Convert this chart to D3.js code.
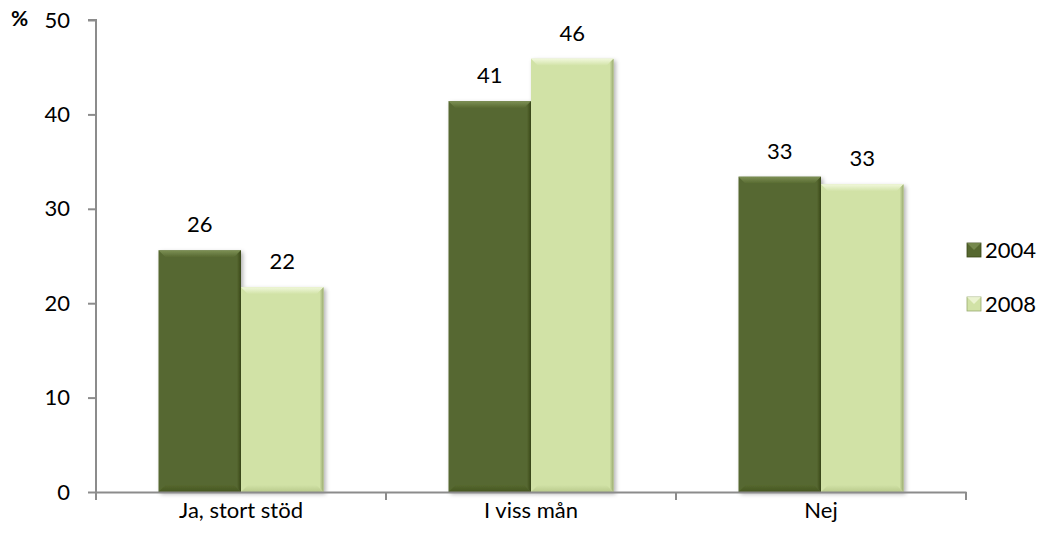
<!DOCTYPE html>
<html>
<head>
<meta charset="utf-8">
<script src="https://cdn.jsdelivr.net/npm/d3@7/dist/d3.min.js"></script>
<style>
  body { margin: 0; background: #fff; }
  svg text { font-family: Lato, "Open Sans", sans-serif; fill: #000; }
</style>
</head>
<body>
<svg id="chart" width="1043" height="547"></svg>
<script>
// Survey answers, share of respondents (%)
const categories = ["Ja, stort stöd", "I viss mån", "Nej"];
const seriesNames = ["2004", "2008"];
const values2004 = [25.6, 41.4, 33.4];
const values2008 = [21.7, 45.9, 32.6];
const yTicks = [0, 10, 20, 30, 40, 50];

const palette = {
  "2004": { base: "#566830", hi: "#7d9055", dark: "#46561f", lo: "#3a4718" },
  "2008": { base: "#d1e2a6", hi: "#f1f8dc", dark: "#b9ca8c", lo: "#9aab70" }
};
const FONT = 22;
const FAMILY = "Lato, 'Open Sans', sans-serif";

const svg = d3.select("#chart");
const margin = { left: 96, right: 1043 - 966, top: 20, bottom: 547 - 492 };
const W = 1043, H = 547;

const x = d3.scaleBand().domain(categories).range([margin.left, W - margin.right]).paddingInner(0).paddingOuter(0);
const x1 = d3.scaleBand().domain(seriesNames).range([0, 165]);
const y = d3.scaleLinear().domain([0, 50]).range([H - margin.bottom, margin.top]);

const defs = svg.append("defs");
const shadow = defs.append("filter").attr("id", "shadow").attr("x", "-20%").attr("y", "-20%").attr("width", "140%").attr("height", "140%");
shadow.append("feDropShadow").attr("dx", 2).attr("dy", 2).attr("stdDeviation", 2).attr("flood-color", "#000").attr("flood-opacity", 0.3);

// vertical fade for the top bevel, horizontal fades for the sides
seriesNames.forEach(s => {
  const p = palette[s];
  const t = defs.append("linearGradient").attr("id", "top" + s).attr("x1", 0).attr("x2", 0).attr("y1", 0).attr("y2", 1);
  t.append("stop").attr("offset", "0%").attr("stop-color", p.hi);
  t.append("stop").attr("offset", "100%").attr("stop-color", p.base);
  const r = defs.append("linearGradient").attr("id", "right" + s).attr("x1", 0).attr("x2", 1).attr("y1", 0).attr("y2", 0);
  r.append("stop").attr("offset", "0%").attr("stop-color", p.base);
  r.append("stop").attr("offset", "100%").attr("stop-color", p.lo);
  const b = defs.append("linearGradient").attr("id", "bottom" + s).attr("x1", 0).attr("x2", 0).attr("y1", 0).attr("y2", 1);
  b.append("stop").attr("offset", "0%").attr("stop-color", p.base);
  b.append("stop").attr("offset", "100%").attr("stop-color", p.dark);
});

const rows = [];
categories.forEach((c, i) => {
  rows.push({ cat: c, s: "2004", v: values2004[i] });
  rows.push({ cat: c, s: "2008", v: values2008[i] });
});

const groupOffset = (x.bandwidth() - 165) / 2;

// Bars with a beveled edge
const bars = svg.append("g").selectAll("g").data(rows).join("g")
  .attr("filter", "url(#shadow)");

bars.each(function(d) {
  const g = d3.select(this);
  const bx = x(d.cat) + groupOffset + x1(d.s);
  const bw = x1.bandwidth();
  const by = y(d.v);
  const bh = y(0) - by;
  const b = 7;
  const p = palette[d.s];
  const pts = a => a.map(q => q.join(",")).join(" ");
  g.append("rect").attr("x", bx).attr("y", by).attr("width", bw).attr("height", bh).attr("fill", p.base);
  // top edge
  g.append("polygon").attr("points", pts([[bx, by], [bx + bw, by], [bx + bw - b, by + b], [bx + b, by + b]]))
    .attr("fill", `url(#top${d.s})`);
  // right edge
  g.append("polygon").attr("points", pts([[bx + bw, by], [bx + bw, by + bh], [bx + bw - 4, by + bh - 4], [bx + bw - 4, by + 4]]))
    .attr("fill", `url(#right${d.s})`);
  // bottom edge
  g.append("polygon").attr("points", pts([[bx, by + bh], [bx + b, by + bh - b], [bx + bw - b, by + bh - b], [bx + bw, by + bh]]))
    .attr("fill", `url(#bottom${d.s})`);
});

// Value labels
svg.append("g").selectAll("text").data(rows).join("text")
  .attr("x", d => x(d.cat) + groupOffset + x1(d.s) + x1.bandwidth() / 2)
  .attr("y", d => y(d.v) - 18)
  .attr("text-anchor", "middle")
  .attr("font-size", FONT)
  .text(d => d3.format(".0f")(d.v));

// Y axis
const yAxis = svg.append("g").attr("transform", `translate(${margin.left},0)`)
  .call(d3.axisLeft(y).tickValues(yTicks).tickSize(8).tickPadding(18).tickFormat(d3.format("d")));
yAxis.select(".domain").attr("stroke", "#8c8c8c").attr("stroke-width", 2).attr("d", `M-8,${y(50)}H0V${y(0)}`);
yAxis.selectAll(".tick line").attr("stroke", "#8c8c8c").attr("stroke-width", 2);
yAxis.selectAll(".tick text").attr("font-size", FONT).attr("font-family", FAMILY).attr("fill", "#000");

// X axis
const xAxis = svg.append("g").attr("transform", `translate(0,${y(0)})`)
  .call(d3.axisBottom(x).tickSize(0).tickPadding(10));
xAxis.select(".domain").attr("stroke", "#8c8c8c").attr("stroke-width", 2);
xAxis.selectAll(".tick text").attr("font-size", FONT).attr("font-family", FAMILY).attr("fill", "#000");
const bounds = [margin.left].concat(categories.map(c => x(c) + x.bandwidth()));
xAxis.append("g").selectAll("line").data(bounds).join("line")
  .attr("x1", d => d).attr("x2", d => d).attr("y1", 0).attr("y2", 8)
  .attr("stroke", "#8c8c8c").attr("stroke-width", 2);

// Unit label
svg.append("text").attr("x", 11).attr("y", 26).attr("font-size", 21).attr("font-weight", "bold").text("%");

// Legend
const legend = svg.append("g").selectAll("g").data(seriesNames).join("g")
  .attr("transform", (d, i) => `translate(967,${243 + i * 54})`);
legend.append("rect").attr("width", 14).attr("height", 14).attr("fill", d => palette[d].base)
  .attr("stroke", d => palette[d].lo).attr("stroke-width", 0.8);
legend.append("polygon").attr("points", "0,0 14,0 7,7").attr("fill", d => palette[d].hi).attr("opacity", 0.8);
legend.append("text").attr("x", 18).attr("y", 7).attr("dy", "0.36em").attr("font-size", FONT).text(d => d);
</script>
</body>
</html>
